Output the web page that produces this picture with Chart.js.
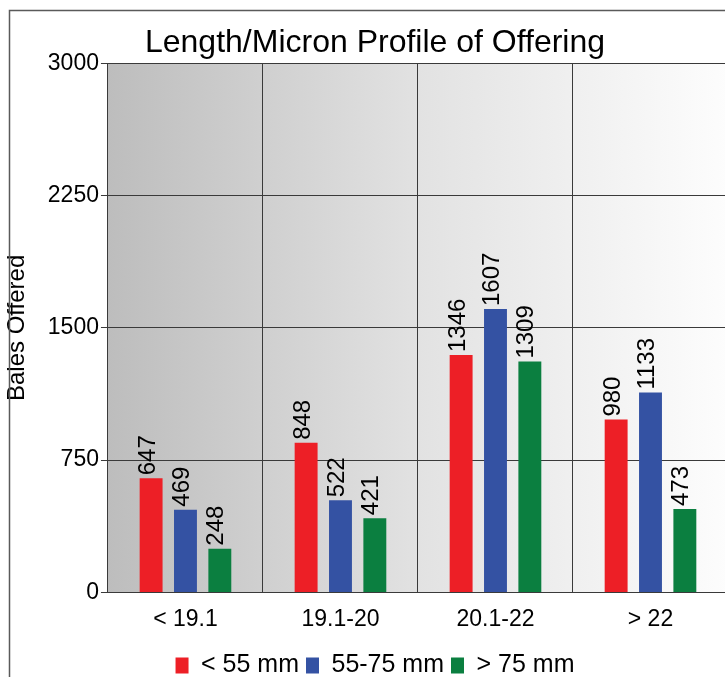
<!DOCTYPE html>
<html>
<head>
<meta charset="utf-8">
<title>Length/Micron Profile of Offering</title>
<script src="https://cdn.jsdelivr.net/npm/chart.js@4/dist/chart.umd.min.js"></script>
<style>
  html, body { margin: 0; padding: 0; background: #fff; overflow: hidden; }
  #wrap { position: relative; width: 750px; height: 677px; }
</style>
</head>
<body>
<div id="wrap"><canvas id="profileChart"></canvas></div>
<script>
// Micron ranges on the x axis
const categories = ["< 19.1", "19.1-20", "20.1-22", "> 22"];

// Bales offered per length group
const under55 = [647, 848, 1346, 980];
const from55to75 = [469, 522, 1607, 1133];
const over75 = [248, 421, 1309, 473];

const seriesNames = ["< 55 mm", "55-75 mm", "> 75 mm"];
const yTicks = [0, 750, 1500, 2250, 3000];

const colors = {
  red: "#ed1f26",
  blue: "#3452a3",
  green: "#0b7f40",
  grid: "#3a3a3a",
  frame: "#5a5a5a",
  text: "#000",
};

const fontFamily = "'Liberation Sans', Arial, sans-serif";

// gray-to-white wash behind the bars
const backdropPlugin = {
  id: "backdrop",
  afterLayout(chart) {
    // centre title and legend on the whole canvas, not on the padded box
    if (chart.titleBlock) {
      chart.titleBlock.left = 0;
      chart.titleBlock.right = chart.width;
    }
    if (chart.legend) {
      chart.legend.left = 0;
      chart.legend.right = chart.width;
    }
  },
  beforeDraw(chart) {
    const { ctx, chartArea } = chart;
    const g = ctx.createLinearGradient(chartArea.left, 0, chartArea.right, 0);
    g.addColorStop(0, "#bdbdbd");
    g.addColorStop(0.5, "#e2e2e2");
    g.addColorStop(1, "#fdfdfd");
    ctx.save();
    ctx.fillStyle = g;
    ctx.fillRect(chartArea.left, chartArea.top, chartArea.right - chartArea.left, chartArea.bottom - chartArea.top);
    ctx.restore();
  },
  afterDraw(chart) {
    // outer frame, only left and top show in the picture
    const ctx = chart.ctx;
    ctx.save();
    ctx.strokeStyle = colors.frame;
    ctx.lineWidth = 1.5;
    ctx.beginPath();
    ctx.moveTo(9.5, chart.height);
    ctx.lineTo(9.5, 10.5);
    ctx.lineTo(chart.width, 10.5);
    ctx.stroke();
    ctx.restore();
  },
};

// rotated value labels sitting on top of each bar
const valueLabelPlugin = {
  id: "valueLabels",
  afterDatasetsDraw(chart) {
    const ctx = chart.ctx;
    ctx.save();
    ctx.font = "24px " + fontFamily;
    ctx.fillStyle = colors.text;
    ctx.textAlign = "left";
    ctx.textBaseline = "middle";
    chart.data.datasets.forEach((ds, i) => {
      const meta = chart.getDatasetMeta(i);
      meta.data.forEach((bar, j) => {
        ctx.save();
        ctx.translate(bar.x - 3, bar.y - 3);
        ctx.rotate(-Math.PI / 2);
        ctx.fillText(String(ds.data[j]), 0, 0);
        ctx.restore();
      });
    });
    ctx.restore();
  },
};

function makeDataset(label, data, color) {
  return {
    label: label,
    data: data,
    backgroundColor: color,
    borderColor: color,
    borderWidth: 0,
    categoryPercentage: 0.665,
    barPercentage: 0.667,
  };
}

new Chart(document.getElementById("profileChart"), {
  type: "bar",
  data: {
    labels: categories,
    datasets: [
      makeDataset(seriesNames[0], under55, colors.red),
      makeDataset(seriesNames[1], from55to75, colors.blue),
      makeDataset(seriesNames[2], over75, colors.green),
    ],
  },
  options: {
    responsive: true,
    maintainAspectRatio: false,
    animation: false,
    layout: {
      padding: { left: 0, right: 22, top: 0, bottom: -11 },
    },
    scales: {
      x: {
        grid: {
          color: colors.grid,
          lineWidth: 1,
          drawTicks: false,
          offset: true,
        },
        border: { color: colors.grid, width: 1 },
        ticks: {
          color: colors.text,
          padding: 13,
          font: { family: fontFamily, size: 23 },
        },
      },
      y: {
        min: 0,
        max: 3000,
        afterBuildTicks(scale) {
          scale.ticks = yTicks.map((v) => ({ value: v }));
        },
        grid: {
          color: colors.grid,
          lineWidth: 1,
          drawTicks: true,
          tickLength: 7,
        },
        border: { color: colors.grid, width: 1 },
        ticks: {
          color: colors.text,
          padding: 2,
          font: { family: fontFamily, size: 23 },
          callback: (v) => String(v),
        },
        title: {
          display: true,
          text: "Bales Offered",
          color: colors.text,
          padding: { top: 3, bottom: 14 },
          font: { family: fontFamily, size: 24 },
        },
      },
    },
    plugins: {
      title: {
        display: true,
        text: "Length/Micron Profile of Offering",
        color: colors.text,
        padding: { top: 24, bottom: 1 },
        font: { family: fontFamily, size: 32, weight: "normal" },
      },
      legend: {
        position: "bottom",
        labels: {
          color: colors.text,
          boxWidth: 13,
          boxHeight: 16,
          padding: 7,
          font: { family: fontFamily, size: 25 },
        },
      },
      tooltip: { enabled: false },
    },
  },
  plugins: [backdropPlugin, valueLabelPlugin],
});
</script>
</body>
</html>
